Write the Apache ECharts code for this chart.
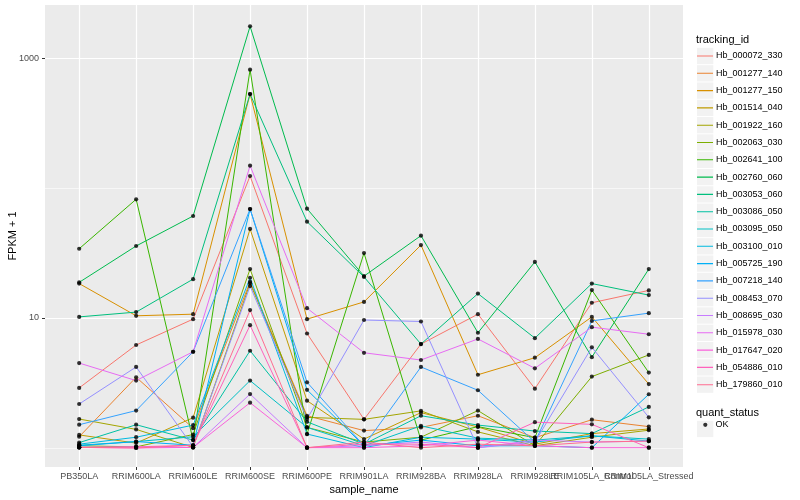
<!DOCTYPE html>
<html><head><meta charset="utf-8">
<script src="https://cdn.jsdelivr.net/npm/echarts@6/dist/echarts.min.js"></script>
<style>html,body{margin:0;padding:0;background:#fff}#c{width:800px;height:500px}</style>
</head><body><div id="c"></div>
<script>
// ---- data ----
const categories = ['PB350LA','RRIM600LA','RRIM600LE','RRIM600SE','RRIM600PE','RRIM901LA','RRIM928BA','RRIM928LA','RRIM928LE','RRIM105LA_Control','RRIM105LA_Stressed'];
const trackingIds = ['Hb_000072_330','Hb_001277_140','Hb_001277_150','Hb_001514_040','Hb_001922_160','Hb_002063_030','Hb_002641_100','Hb_002760_060','Hb_003053_060','Hb_003086_050','Hb_003095_050','Hb_003100_010','Hb_005725_190','Hb_007218_140','Hb_008453_070','Hb_008695_030','Hb_015978_030','Hb_017647_020','Hb_054886_010','Hb_179860_010'];
const Hb_000072_330 = [2.9, 6.2, 9.8, 123.7, 7.6, 1.66, 6.3, 10.7, 2.86, 13.1, 16.3];
const Hb_001277_140 = [1.22, 3.5, 1.42, 19.0, 1.77, 1.36, 1.44, 1.77, 1.20, 1.65, 1.46];
const Hb_001277_150 = [18.4, 10.4, 10.7, 528, 9.8, 13.3, 36.4, 3.66, 4.95, 10.2, 3.1];
const Hb_001514_040 = [1.26, 1.09, 1.71, 48.4, 2.31, 1.17, 1.87, 1.45, 1.07, 1.29, 1.40];
const Hb_001922_160 = [1.67, 1.39, 1.01, 18.5, 1.72, 1.66, 1.93, 1.33, 1.04, 1.21, 1.37];
const Hb_002063_030 = [1.04, 1.02, 1.27, 23.8, 1.44, 1.11, 1.21, 1.94, 1.04, 3.54, 5.2];
const Hb_002641_100 = [34.1, 81.9, 1.15, 812.8, 1.28, 31.6, 1.15, 1.46, 1.20, 16.4, 3.8];
const Hb_002760_060 = [18.8, 35.8, 60.9, 1753, 69.3, 21.0, 43.0, 7.7, 27.0, 5.0, 23.8];
const Hb_003053_060 = [10.2, 11.1, 19.9, 528, 55.1, 20.7, 6.3, 15.4, 7.0, 18.4, 15.0];
const Hb_003086_050 = [1.10, 1.51, 1.15, 5.6, 1.59, 1.07, 1.77, 1.50, 1.35, 1.29, 2.07];
const Hb_003095_050 = [1.05, 1.12, 1.22, 3.3, 1.44, 1.04, 1.48, 1.19, 1.15, 1.24, 1.17];
const Hb_003100_010 = [1.07, 1.21, 1.50, 20.4, 1.28, 1.005, 1.21, 1.17, 1.11, 1.24, 1.13];
const Hb_005725_190 = [1.04, 1.12, 1.05, 68.9, 2.8, 1.04, 1.15, 1.04, 1.04, 1.005, 2.59];
const Hb_007218_140 = [1.51, 1.94, 5.5, 68.9, 3.2, 1.04, 4.2, 2.78, 1.11, 9.5, 10.9];
const Hb_008453_070 = [2.18, 4.2, 1.02, 17.6, 1.67, 9.65, 9.4, 1.005, 1.11, 5.95, 1.72];
const Hb_008695_030 = [1.01, 1.02, 1.01, 2.6, 1.005, 1.04, 1.11, 1.005, 1.15, 1.11, 1.13];
const Hb_015978_030 = [4.5, 3.3, 5.5, 148.5, 11.9, 5.4, 4.75, 6.9, 4.1, 8.5, 7.5];
const Hb_017647_020 = [1.01, 1.0, 1.01, 2.23, 1.005, 1.005, 1.04, 1.15, 1.04, 1.005, 1.005];
const Hb_054886_010 = [1.01, 1.02, 1.05, 8.8, 1.005, 1.07, 1.07, 1.005, 1.58, 1.52, 1.005];
const Hb_179860_010 = [1.01, 1.0, 1.05, 11.5, 1.005, 1.11, 1.005, 1.07, 1.04, 1.11, 1.13];
const yTickLabels = [10, 1000];
const yMinorBreaks = [1, 100];
const quantStatus = 'OK';

// ---- styling ----
const seriesValues = [Hb_000072_330,Hb_001277_140,Hb_001277_150,Hb_001514_040,Hb_001922_160,Hb_002063_030,Hb_002641_100,Hb_002760_060,Hb_003053_060,Hb_003086_050,Hb_003095_050,Hb_003100_010,Hb_005725_190,Hb_007218_140,Hb_008453_070,Hb_008695_030,Hb_015978_030,Hb_017647_020,Hb_054886_010,Hb_179860_010];
const palette = ['#F8766D','#EA8331','#D89000','#C09B00','#A3A500','#7CAE00','#39B600','#00BB4E','#00BF7D','#00C1A3','#00BFC4','#00BAE0','#00B0F6','#35A2FF','#9590FF','#C77CFF','#E76BF3','#FA62DB','#FF62BC','#FF6C91'];
const FONT = '"Liberation Sans", Arial, sans-serif';
const catIdx = categories.map((_, i) => i);
const catIdxA = catIdx.filter(i => i % 2 === 0);   // split across two axes so overlapping labels all stay visible
const catIdxB = catIdx.filter(i => i % 2 === 1);
const yMin = 0.714, yMax = 2558;

const lineSeries = trackingIds.map((id, k) => ({
  name: id, type: 'line', showSymbol: false, symbol: 'none',
  data: seriesValues[k].map((v, i) => [i, v]),
  itemStyle: { color: palette[k] },
  lineStyle: { color: palette[k], width: 1 },
  z: 2, silent: true
}));
const pts = [];
seriesValues.forEach(arr => arr.forEach((v, i) => pts.push([i, v])));
const pointSeries = {
  name: quantStatus, type: 'scatter', data: pts, symbol: 'circle', symbolSize: 4.2,
  itemStyle: { color: '#000' }, z: 5, silent: true
};

const legendTop = 47.35, legendStep = 17.3;
const keyRects = trackingIds.map((_, i) => ({
  type: 'rect', z: 1, silent: true,
  shape: { x: 697, y: legendTop + i * legendStep + 0.5, width: 16.3, height: legendStep - 1 },
  style: { fill: '#F2F2F2' }
}));
keyRects.push({ type: 'rect', z: 1, silent: true,
  shape: { x: 697, y: 420.8, width: 16.3, height: legendStep - 1 }, style: { fill: '#F2F2F2' } });

const iconPath = 'path://M0,0h0.01v0.01h-0.01z M0,8.1h16v1.1h-16z M15.99,17.29h0.01v0.01h-0.01z';

function xAxisDef(vals, withName) {
  return {
    type: 'value', min: -0.6, max: 10.6, position: 'bottom', offset: 0,
    axisLine: { show: false, onZero: false },
    axisTick: { show: true, customValues: vals, length: 3, lineStyle: { color: '#333', width: 1 } },
    axisLabel: { customValues: vals, formatter: v => categories[Math.round(v)], fontSize: 9, color: '#4D4D4D', margin: 5, fontFamily: FONT, hideOverlap: false },
    splitLine: { show: true, lineStyle: { color: '#fff', width: 1.2 } },
    name: withName ? 'sample_name' : '', nameLocation: 'middle', nameGap: 17, nameMoveOverlap: false,
    nameTextStyle: { fontSize: 11, color: '#000', fontFamily: FONT }
  };
}

const option = {
  animation: false,
  backgroundColor: '#fff',
  textStyle: { fontFamily: FONT },
  grid: { left: 45, right: 117, top: 5, bottom: 33, show: true, backgroundColor: '#EBEBEB', borderWidth: 0,
          containLabel: false, outerBoundsMode: 'none' },
  title: [
    { text: 'tracking_id', left: 696, top: 34, textStyle: { fontSize: 11, fontWeight: 'normal', color: '#000', fontFamily: FONT }, padding: 0 },
    { text: 'quant_status', left: 696, top: 407, textStyle: { fontSize: 11, fontWeight: 'normal', color: '#000', fontFamily: FONT }, padding: 0 }
  ],
  legend: [
    { data: trackingIds, orient: 'vertical', left: 697, top: legendTop, padding: 0,
      itemWidth: 16, itemHeight: legendStep, itemGap: 0, icon: iconPath,
      textStyle: { fontSize: 9, color: '#000', fontFamily: FONT, padding: [0,0,0,-2] },
      selectedMode: false },
    { data: [quantStatus], orient: 'vertical', left: 703.2, top: 420.3, padding: 0,
      itemWidth: 4.2, itemHeight: legendStep, itemGap: 0, icon: 'circle',
      textStyle: { fontSize: 9, color: '#000', fontFamily: FONT, padding: [0,0,0,3] },
      selectedMode: false }
  ],
  graphic: keyRects,
  xAxis: [ xAxisDef(catIdxA, true), xAxisDef(catIdxB, false) ],
  yAxis: [
    {
      type: 'log', logBase: 10, min: yMin, max: yMax,
      axisLine: { show: false, onZero: false },
      axisTick: { show: true, customValues: yTickLabels, length: 3, lineStyle: { color: '#333', width: 1 } },
      axisLabel: { customValues: yTickLabels, formatter: v => String(Math.round(v)), fontSize: 9, color: '#4D4D4D', margin: 6, fontFamily: FONT },
      splitLine: { show: true, lineStyle: { color: '#fff', width: 1.2 } },
      name: 'FPKM + 1', nameLocation: 'middle', nameGap: 27, nameRotate: 90, nameMoveOverlap: false,
      nameTextStyle: { fontSize: 11, color: '#000', fontFamily: FONT }
    },
    {
      type: 'log', logBase: 10, min: yMin, max: yMax, position: 'left',
      axisLine: { show: false, onZero: false },
      axisTick: { show: false, customValues: yMinorBreaks },
      axisLabel: { show: false, customValues: yMinorBreaks },
      splitLine: { show: true, lineStyle: { color: '#fff', width: 0.6 } }
    }
  ],
  series: [...lineSeries, pointSeries]
};
const chart = echarts.init(document.getElementById('c'), null, { renderer: 'canvas' });
chart.setOption(option);
</script></body></html>
